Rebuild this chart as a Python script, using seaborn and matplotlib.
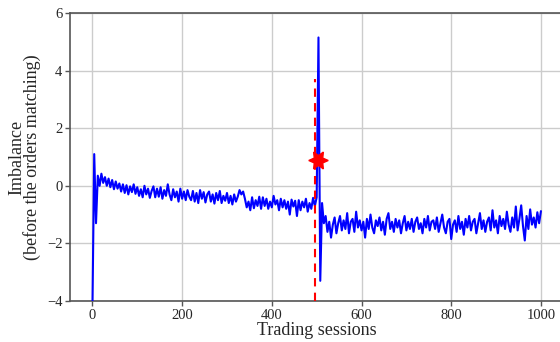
import numpy as np
import pandas as pd
import matplotlib
matplotlib.use("Agg")
import matplotlib.pyplot as plt
import seaborn as sns

# Imbalance values sampled every 4 trading sessions
imb_early = [-4.3, 1.1, -1.3, 0.35, 0.0, 0.42, 0.1, 0.3, 0.0, 0.25,
             -0.05, 0.2, -0.12, 0.15, -0.1, 0.08, -0.2, 0.05, -0.25, 0.02,
             -0.3, -0.02, -0.22, 0.05, -0.28]
imb_mid = [-0.05, -0.35, -0.12, -0.4, 0.0, -0.3, -0.1, -0.42, -0.18, -0.02,
           -0.4, -0.1, -0.38, -0.05, -0.45, -0.15, -0.35, 0.05, -0.3, -0.5,
           -0.12, -0.4, -0.2, -0.55, -0.1, -0.45, -0.2, -0.5, -0.15, -0.38,
           -0.5, -0.18, -0.55, -0.25, -0.6, -0.15, -0.45, -0.22, -0.58, -0.3,
           -0.2, -0.55, -0.3, -0.62, -0.25, -0.5, -0.18, -0.6, -0.35, -0.52,
           -0.25, -0.6, -0.35, -0.65, -0.3, -0.55, -0.38, -0.15, -0.3, -0.2,
           -0.45, -0.75, -0.55, -0.85, -0.4, -0.78, -0.5, -0.7, -0.38, -0.8,
           -0.4, -0.7, -0.45, -0.8, -0.55, -0.75, -0.35, -0.65, -0.5, -0.85,
           -0.45, -0.75, -0.5, -0.8, -0.55, -1.0, -0.48, -0.72, -0.52, -1.05,
           -0.5, -0.85, -0.55, -0.75, -0.45, -0.9, -0.6, -0.8, -0.42, -0.7]
imb_spike = [-0.4, 5.15, -3.3, -0.6, -1.3]
imb_late = [-1.05, -1.6, -1.25, -1.8, -1.35, -1.1, -1.65, -1.3, -1.05, -1.55,
            -1.2, -1.5, -0.95, -1.65, -1.25, -1.15, -1.6, -0.9, -1.45, -1.2,
            -1.55, -1.25, -1.8, -1.15, -1.5, -1.0, -1.45, -1.65, -1.2, -1.4,
            -1.1, -1.55, -1.25, -1.7, -1.15, -0.95, -1.5, -1.25, -1.6, -1.15,
            -1.45, -1.2, -1.65, -1.3, -1.05, -1.55, -1.25, -1.5, -1.15, -1.6,
            -1.25, -1.1, -1.5, -1.3, -1.65, -1.15, -1.45, -1.05, -1.55, -1.25,
            -1.2, -1.5, -1.1, -1.6, -1.3, -1.0, -1.45, -1.65, -1.25, -1.15,
            -1.85, -1.35, -1.2, -1.6, -1.05, -1.5, -1.25, -1.7, -1.15, -1.45,
            -1.05, -1.55, -1.25, -1.15, -1.65, -1.3, -0.95, -1.5, -1.2, -1.6,
            -1.25, -1.1, -1.55, -0.85, -1.45, -1.2, -1.65, -1.05, -1.4, -1.15,
            -1.5, -0.9, -1.35, -1.6, -1.1, -1.45, -0.72, -1.55, -1.15, -0.68,
            -1.4, -1.9, -1.05, -1.5, -0.82, -1.35, -1.1, -1.45, -0.92, -1.3,
            -0.88]

session_step = 4
switch_session = 497
switch_top = 3.7
marker_session = 503
marker_value = 0.9

imbalance = imb_early + imb_mid + imb_spike + imb_late
sessions = list(range(0, session_step * len(imbalance), session_step))
df = pd.DataFrame({"session": sessions, "imbalance": imbalance})

sns.set_theme(style="whitegrid")
plt.rcParams["font.family"] = ["Liberation Serif", "DejaVu Serif"]
plt.rcParams["mathtext.fontset"] = "stix"

fig = plt.figure(figsize=(5.6, 3.42), dpi=100)
ax = fig.add_axes([0.125, 0.12, 0.881, 0.842])

sns.lineplot(data=df, x="session", y="imbalance", ax=ax, color="blue",
             linewidth=1.5, zorder=3)
ax.vlines(switch_session, -4, switch_top, colors="red", linestyles=(0, (4, 3)),
          linewidth=1.5, zorder=4)
ax.plot([marker_session], [marker_value], marker=(6, 1, 30), color="red",
        markersize=14, linestyle="none", zorder=5)

ax.set_xlim(-50, 1050)
ax.set_ylim(-4, 6)
ax.set_xticks([0, 200, 400, 600, 800, 1000])
ax.set_yticks([-4, -2, 0, 2, 4, 6])
ax.set_xlabel("Trading sessions", fontsize=13, labelpad=0)
ax.set_ylabel("Imbalance\n(before the orders matching)", fontsize=13,
              labelpad=4, linespacing=0.85)
ax.tick_params(axis="both", labelsize=10.5, length=3.5, width=1, color="#555555",
               left=True, bottom=True, pad=2)
ax.grid(True, color="#cccccc", linewidth=1)
for side, sp in ax.spines.items():
    sp.set_color("#555555")
    sp.set_linewidth(1.2)

fig.savefig("out.png", dpi=100)
